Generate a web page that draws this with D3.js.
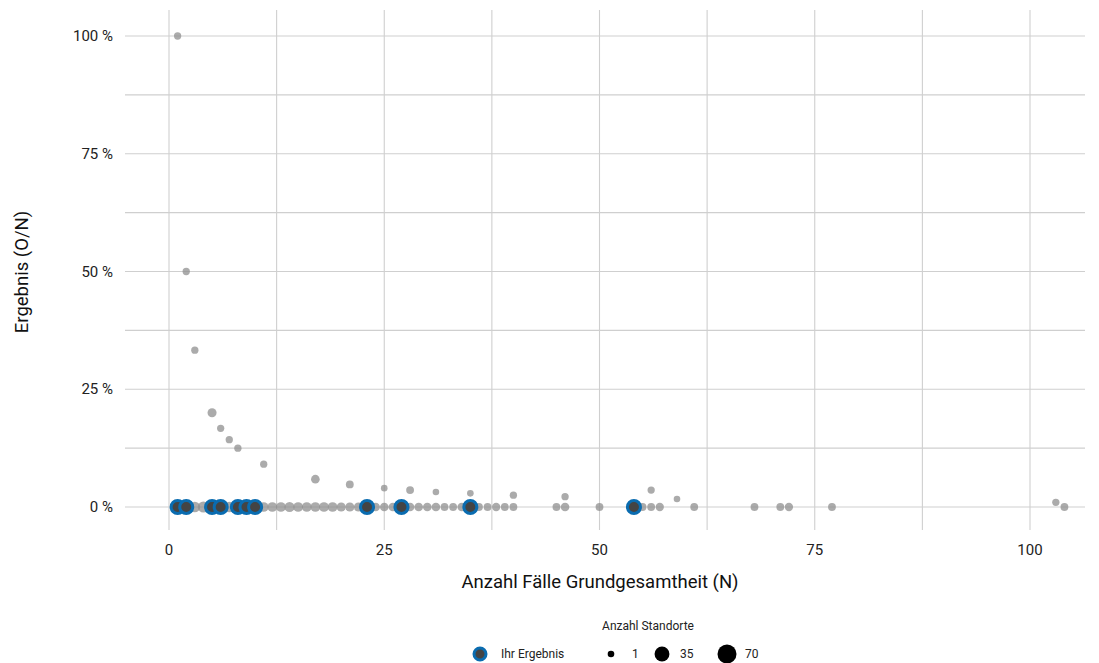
<!DOCTYPE html><html><head><meta charset="utf-8"><script src="https://cdn.jsdelivr.net/npm/d3@7"></script>
<style>body{margin:0;background:#fff;font-family:Roboto,sans-serif}</style></head><body><svg id="c" width="1099" height="663"></svg>
<script>
// grey points: [N, percent, count]
const zeroN = [1,2,3,4,5,6,7,8,9,10,11,12,13,14,15,16,17,18,19,20,21,22,23,24,25,26,27,28,29,30,31,32,33,34,35,36,37,38,39,40,45,46,50,54,55,56,57,61,68,71,72,77,104];
const zeroCount = [20,18,12,14,16,14,12,14,12,12,8,8,8,10,8,8,8,8,8,6,6,6,5,5,5,5,5,5,5,5,5,3,3,5,3,3,3,4,3,3,3,5,3,3,3,3,4,3,3,3,4,3,3];
const nzN = [1,2,3,5,6,7,8,11,17,21,25,28,31,35,40,46,56,59,103];
const nzP = [100,50,33.3,20,16.7,14.3,12.5,9.1,5.9,4.8,4.0,3.6,3.2,2.9,2.5,2.2,3.6,1.7,1.0];
const nzCount = [2,2,2,6,2,2,2,2,5,3,1,3,1,1,2,2,2,1,2];
const ownN = [1,2,5,6,8,9,10,23,27,35,54];
const xTicks = [0,25,50,75,100];
const yTicks = [0,25,50,75,100];
const legendSizes = [1,35,70];

const svg = d3.select("#c");
const x = d3.scaleLinear().domain([0,100]).range([169,1030]);
const y = d3.scaleLinear().domain([0,100]).range([507,36]);
const r = d3.scaleSqrt().domain([1,70]).range([3.3,9.5]);
const g = svg.append("g");
const xg = d3.range(-12.5,115,12.5).filter(v=>x(v)>=125&&x(v)<=1085);
g.selectAll(".vx").data(xg).join("line").attr("x1",d=>x(d)).attr("x2",d=>x(d)).attr("y1",10).attr("y2",530).attr("stroke","#cfcfcf").attr("stroke-width",1.1);
g.selectAll(".hy").data(d3.range(0,112.5,12.5)).join("line").attr("x1",125).attr("x2",1085).attr("y1",d=>y(d)).attr("y2",d=>y(d)).attr("stroke","#cfcfcf").attr("stroke-width",1.1);
svg.selectAll(".xt").data(xTicks).join("text").attr("x",d=>x(d)).attr("y",555).attr("text-anchor","middle").attr("font-size",15).attr("fill","#222").text(d=>d);
svg.selectAll(".yt").data(yTicks).join("text").attr("x",113).attr("y",d=>y(d)+5).attr("text-anchor","end").attr("font-size",15).attr("fill","#222").text(d=>d+" %");
svg.append("text").attr("x",600).attr("y",588).attr("text-anchor","middle").attr("font-size",18.5).attr("fill","#111").text("Anzahl Fälle Grundgesamtheit (N)");
svg.append("text").attr("transform","translate(28,272) rotate(-90)").attr("text-anchor","middle").attr("font-size",18.5).attr("fill","#111").text("Ergebnis (O/N)");
const grey = zeroN.map((n,i)=>({n,p:0,c:zeroCount[i]})).concat(nzN.map((n,i)=>({n,p:nzP[i],c:nzCount[i]})));
svg.selectAll(".g").data(grey).join("circle").attr("cx",d=>x(d.n)).attr("cy",d=>y(d.p)).attr("r",d=>r(d.c)).attr("fill","#8f8f8f").attr("fill-opacity",0.75);
svg.selectAll(".o").data(ownN).join("circle").attr("cx",d=>x(d)).attr("cy",y(0)).attr("r",6.5).attr("fill","#444").attr("stroke","#0a6cb0").attr("stroke-width",3);
// legend
svg.append("text").attr("x",648).attr("y",630).attr("text-anchor","middle").attr("font-size",12).attr("fill","#222").text("Anzahl Standorte");
svg.append("circle").attr("cx",480).attr("cy",654).attr("r",6).attr("fill","#444").attr("stroke","#0a6cb0").attr("stroke-width",3);
svg.append("text").attr("x",501).attr("y",658).attr("font-size",12).attr("fill","#222").text("Ihr Ergebnis");
const lx=[611,662,727];
legendSizes.forEach((s,i)=>{
  svg.append("circle").attr("cx",lx[i]).attr("cy",654).attr("r",r(s)).attr("fill","#000");
  svg.append("text").attr("x",lx[i]+(i==0?21:18)).attr("y",658).attr("font-size",12).attr("fill","#222").text(s);
});
</script></body></html>
